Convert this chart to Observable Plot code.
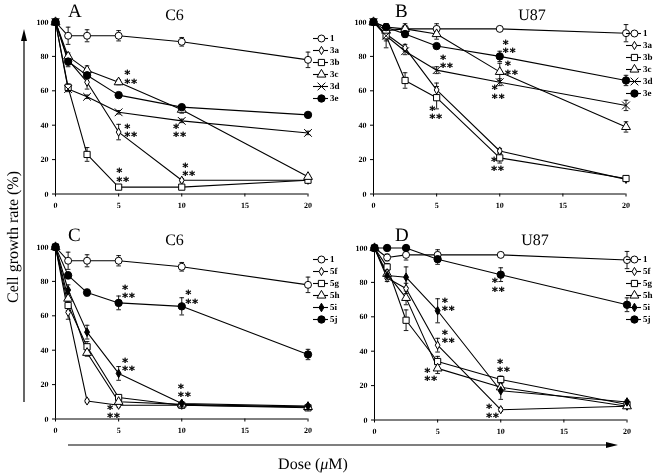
<!DOCTYPE html>
<html>
<head>
<meta charset="utf-8">
<script src="https://cdn.jsdelivr.net/npm/d3@7"></script>
<script src="https://cdn.jsdelivr.net/npm/@observablehq/plot@0.6"></script>
<style>
  html, body { margin: 0; padding: 0; background: #fff; }
  #root { position: relative; width: 661px; height: 475px; background: #fff; overflow: hidden; font-family: "Liberation Serif", "Times New Roman", serif; }
  #root svg { position: absolute; will-change: transform; }
  #root svg text { text-rendering: geometricPrecision; }
</style>
</head>
<body>
<div id="root"></div>
<script>
// ---------------- DATA ----------------
const doses = [0, 1, 2.5, 5, 10, 20];
const xTicks = [0, 5, 10, 15, 20];
const yTicks = [0, 20, 40, 60, 80, 100];
const namesTop = ["1", "3a", "3b", "3c", "3d", "3e"];
const namesBottom = ["1", "5f", "5g", "5h", "5i", "5j"];

// Panel A (C6)
const A_1  = [100, 92, 92, 92, 88.5, 78];
const A_3a = [100, 78, 65, 36, 8, 8];
const A_3b = [100, 62, 23, 4, 4, 8];
const A_3c = [100, 80, 72, 65, 49, 10];
const A_3d = [100, 61, 56.5, 47.5, 42.5, 35.5];
const A_3e = [100, 77, 69, 57.5, 50.5, 46];
const A_err1  = [0, 5, 3.5, 3, 2.5, 4.5];
const A_err3a = [0, 3, 4, 4.5, 1, 1];
const A_err3b = [0, 2, 4, 1, 1, 1];
const A_err3c = [0, 2, 2.5, 1.5, 2, 1];
const A_err3d = [0, 1.5, 1, 1, 1, 1];
const A_err3e = [0, 3, 2, 1, 1, 1];
const A_starX = [5.46, 5.46, 9.33, 4.83, 10.05];
const A_starY = [66.6, 35.6, 35.6, 9.8, 13];

// Panel B (U87)
const B_1  = [100, 97, 96, 96, 96, 93.5];
const B_3a = [100, 93, 85, 60.5, 25, 8.5];
const B_3b = [100, 92, 66, 56, 21, 9];
const B_3c = [100, 95, 96, 93, 71, 39];
const B_3d = [100, 92, 83, 72, 65, 51.5];
const B_3e = [100, 97, 93, 86, 80, 66];
const B_err1  = [0, 2, 3, 3, 1, 5];
const B_err3a = [0, 2, 2, 4, 1.5, 1];
const B_err3b = [0, 3, 4.5, 6.5, 3, 1];
const B_err3c = [0, 2, 2, 3, 5, 3];
const B_err3d = [0, 7, 2, 2, 2, 3];
const B_err3e = [0, 2, 2, 1, 3, 3];
const B_starX = [5.28, 4.43, 10.24, 10.42, 9.37, 9.32];
const B_starY = [75.7, 46, 84.5, 71.9, 57.9, 16.2];

// Panel C (C6)
const C_1  = [100, 92, 92, 92, 88.5, 78];
const C_5f = [100, 62, 10.5, 8, 8, 7];
const C_5g = [100, 66, 42, 12.5, 8, 6.5];
const C_5h = [100, 70, 38.5, 10, 8.5, 7];
const C_5i = [100, 75, 50.5, 26.5, 9, 7.5];
const C_5j = [100, 83.5, 73.5, 67.5, 65.5, 37.5];
const C_err1  = [0, 5, 3.5, 3, 2.5, 4.5];
const C_err5f = [0, 4, 1, 1, 1, 1];
const C_err5g = [0, 3, 3, 1.5, 1, 1];
const C_err5h = [0, 3, 2, 1, 1, 1];
const C_err5i = [0, 3, 4, 4, 1, 1];
const C_err5j = [0, 2, 2, 4, 5, 3];
const C_starX = [5.28, 10.29, 5.28, 4.09, 9.71];
const C_starY = [72.8, 69.7, 30.5, 3.1, 15.3];

// Panel D (U87)
const D_1  = [100, 94.5, 96, 96, 96, 93];
const D_5f = [100, 82.5, 76.5, 43.5, 6, 8];
const D_5g = [100, 89, 58, 34, 23.5, 9];
const D_5h = [100, 85, 71, 30, 19, 8];
const D_5i = [100, 84, 83, 63.5, 17, 10.5];
const D_5j = [100, 100, 100, 93.5, 84.5, 67];
const D_err1  = [0, 2, 3, 3, 1, 5];
const D_err5f = [0, 2, 3, 4, 1, 1];
const D_err5g = [0, 2, 6, 3, 2, 1];
const D_err5h = [0, 2, 4, 3, 2, 1];
const D_err5i = [0, 2, 6, 7, 5, 1];
const D_err5j = [0, 1, 1, 3, 4, 4];
const D_starX = [9.3, 5.34, 5.34, 3.96, 9.72, 8.85];
const D_starY = [77.3, 66, 47.2, 25.3, 30.3, 4];

// ---------------- STYLES ----------------
const FONT = "Liberation Serif";
const markerTop = [
  {symbol: "circle", r: 3.5, fill: "white"},
  {symbol: "diamond", r: 2.5, fill: "white"},
  {symbol: "square", r: 3.5, fill: "white"},
  {symbol: "triangle", r: 3.3, fill: "white"},
  {symbol: "times", r: 3.6, fill: "none"},
  {symbol: "circle", r: 3.7, fill: "black"}
];
const markerBottom = [
  {symbol: "circle", r: 3.5, fill: "white"},
  {symbol: "diamond", r: 2.5, fill: "white"},
  {symbol: "square", r: 3.5, fill: "white"},
  {symbol: "triangle", r: 3.3, fill: "white"},
  {symbol: "diamond", r: 2.6, fill: "black"},
  {symbol: "circle", r: 3.7, fill: "black"}
];
const capSymbol = {
  draw(ctx, size) { const w = Math.sqrt(size) / 2; ctx.moveTo(-w, 0); ctx.lineTo(w, 0); }
};

const panels = [
  {left: 0, top: 0, names: namesTop, markers: markerTop,
   values: [A_1, A_3a, A_3b, A_3c, A_3d, A_3e],
   errs: [A_err1, A_err3a, A_err3b, A_err3c, A_err3d, A_err3e],
   starX: A_starX, starY: A_starY, legLeft: 305, legTop: 20},
  {left: 318.3, top: 0, names: namesTop, markers: markerTop,
   values: [B_1, B_3a, B_3b, B_3c, B_3d, B_3e],
   errs: [B_err1, B_err3a, B_err3b, B_err3c, B_err3d, B_err3e],
   starX: B_starX, starY: B_starY, legLeft: 618, legTop: 15},
  {left: 0, top: 225, names: namesBottom, markers: markerBottom,
   values: [C_1, C_5f, C_5g, C_5h, C_5i, C_5j],
   errs: [C_err1, C_err5f, C_err5g, C_err5h, C_err5i, C_err5j],
   starX: C_starX, starY: C_starY, legLeft: 305, legTop: 241},
  {left: 319.3, top: 225.5, names: namesBottom, markers: markerBottom,
   values: [D_1, D_5f, D_5g, D_5h, D_5i, D_5j],
   errs: [D_err1, D_err5f, D_err5g, D_err5h, D_err5i, D_err5j],
   starX: D_starX, starY: D_starY, legLeft: 618, legTop: 241}
];

const root = document.getElementById("root");

function place(svg, left, top) {
  svg.style.left = left + "px";
  svg.style.top = top + "px";
  svg.style.position = "absolute";
  svg.style.overflow = "visible";
  svg.style.background = "transparent";
  svg.style.maxWidth = "none";
  root.appendChild(svg);
}

for (const p of panels) {
  const rows = [];
  p.names.forEach((name, i) => {
    doses.forEach((d, j) => rows.push({series: name, idx: i, dose: d, value: p.values[i][j], err: p.errs[i][j]}));
  });
  const stars = p.starX.map((x, i) => ({x, y: p.starY[i]}));
  const withErr = rows.filter(d => d.err > 0);
  const marks = [
    Plot.ruleX([0], {stroke: "black", strokeWidth: 1}),
    Plot.ruleY([0], {stroke: "black", strokeWidth: 1}),
    Plot.axisY({ticks: yTicks, tickSize: 3, tickPadding: 4, fontSize: 8, fontWeight: "bold", fontFamily: FONT, label: null, stroke: "black", fill: "black"}),
    Plot.axisX({ticks: xTicks, tickSize: 3, tickPadding: 5, fontSize: 8, fontWeight: "bold", fontFamily: FONT, label: null, stroke: "black", fill: "black"}),
    Plot.line(rows, {x: "dose", y: "value", z: "series", stroke: "black", strokeWidth: 1.1}),
    Plot.ruleX(withErr, {x: "dose", y1: d => d.value - d.err, y2: d => d.value + d.err, stroke: "black", strokeWidth: 0.9}),
    Plot.dot(withErr, {x: "dose", y: d => d.value + d.err, symbol: capSymbol, r: 2.6, stroke: "black", strokeWidth: 0.9}),
    Plot.dot(withErr, {x: "dose", y: d => d.value - d.err, symbol: capSymbol, r: 2.6, stroke: "black", strokeWidth: 0.9})
  ];
  p.markers.forEach((m, i) => {
    marks.push(Plot.dot(rows.filter(d => d.idx === i), {
      x: "dose", y: "value", symbol: m.symbol, r: m.r, fill: m.fill, stroke: "black", strokeWidth: 1
    }));
  });
  // significance marks: "*" above "**"
  marks.push(Plot.text(stars, {
    x: "x", y: "y", text: () => "*", textAnchor: "start", lineAnchor: "middle", dy: -4.5,
    fontSize: 11, fontWeight: "bold", fontFamily: "DejaVu Sans", fill: "black", stroke: "black", strokeWidth: 0.35
  }));
  marks.push(Plot.text(stars, {
    x: "x", y: "y", text: () => "*\u200a*", textAnchor: "start", lineAnchor: "middle", dy: 4,
    fontSize: 11, fontWeight: "bold", fontFamily: "DejaVu Sans", fill: "black", stroke: "black", strokeWidth: 0.35
  }));
  const chart = Plot.plot({
    width: 330, height: 215,
    marginLeft: 55, marginRight: 22.5, marginTop: 21.5, marginBottom: 21.5,
    x: {domain: [0, 20]},
    y: {domain: [0, 100]},
    style: {background: "transparent", overflow: "visible", fontFamily: FONT, color: "black"},
    marks
  });
  place(chart, p.left, p.top);

  // legend
  const legRows = p.names.map((n, i) => ({name: n, idx: i}));
  const legMarks = [
    Plot.ruleY(legRows, {y: "name", x1: 0, x2: 1, stroke: "black", strokeWidth: 1.1})
  ];
  p.markers.forEach((m, i) => {
    legMarks.push(Plot.dot(legRows.filter(d => d.idx === i), {
      x: 0.53, y: "name", symbol: m.symbol, r: m.r, fill: m.fill, stroke: "black", strokeWidth: 1
    }));
  });
  legMarks.push(Plot.text(legRows, {x: 1, y: "name", text: "name", dx: 1.5, textAnchor: "start",
    fontSize: 9, fontWeight: "bold", fontFamily: FONT, fill: "black"}));
  const leg = Plot.plot({
    width: 45, height: 95, margin: 0,
    x: {domain: [0, 1], range: [8, 23], axis: null},
    y: {type: "point", domain: p.names, range: [9, 86], axis: null},
    style: {background: "transparent", overflow: "visible"},
    marks: legMarks
  });
  place(leg, p.legLeft, p.legTop);
}

// overlay: titles, axis labels, arrows
const ov = d3.create("svg").attr("width", 661).attr("height", 475)
  .attr("font-family", FONT).style("left", "0px").style("top", "0px").style("overflow", "visible");
const titles = [
  {t: "A", x: 68, y: 17, s: 19, a: "start"}, {t: "C6", x: 174.5, y: 20, s: 16, a: "middle"},
  {t: "B", x: 395, y: 17, s: 19, a: "start"}, {t: "U87", x: 532, y: 20, s: 16, a: "middle"},
  {t: "C", x: 68, y: 241, s: 19, a: "start"}, {t: "C6", x: 174.5, y: 245, s: 16, a: "middle"},
  {t: "D", x: 395, y: 241, s: 19, a: "start"}, {t: "U87", x: 535, y: 245, s: 16, a: "middle"}
];
for (const t of titles) {
  ov.append("text").attr("x", t.x).attr("y", t.y).attr("font-size", t.s).attr("text-anchor", t.a).text(t.t);
}
ov.append("text").attr("transform", "translate(18,237) rotate(-90)").attr("text-anchor", "middle")
  .attr("font-size", 16).text("Cell growth rate (%)");
ov.append("line").attr("x1", 24).attr("x2", 24).attr("y1", 402).attr("y2", 38).attr("stroke", "black").attr("stroke-width", 1.2);
ov.append("path").attr("d", "M24,29 L21,41 L27,41 Z").attr("fill", "black");
ov.append("line").attr("x1", 68).attr("x2", 608).attr("y1", 445).attr("y2", 445).attr("stroke", "black").attr("stroke-width", 1.2);
ov.append("path").attr("d", "M618,445 L606,442 L606,448 Z").attr("fill", "black");
const dose = ov.append("text").attr("x", 313).attr("y", 469).attr("text-anchor", "middle").attr("font-size", 16);
dose.append("tspan").text("Dose (");
dose.append("tspan").attr("font-style", "italic").text("\u03bc");
dose.append("tspan").text("M)");
root.appendChild(ov.node());
</script>
</body>
</html>
